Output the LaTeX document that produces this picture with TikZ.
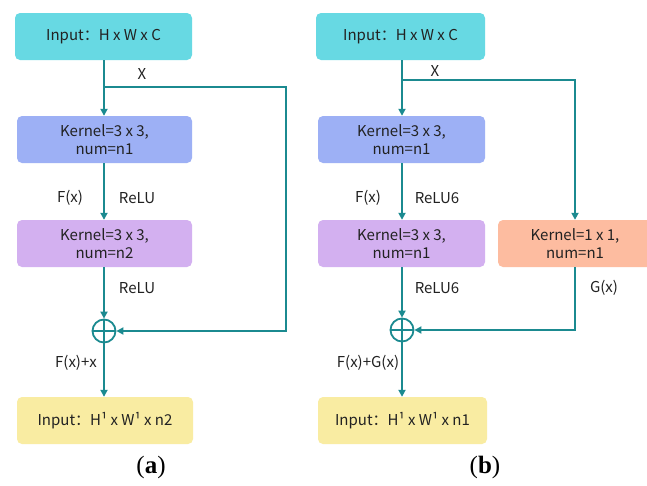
\documentclass[tikz,border=0pt]{standalone}
\usepackage{fontspec}
\setmainfont{Noto Sans CJK SC}
\newfontfamily\capfont{Liberation Serif}
\usetikzlibrary{arrows.meta}
\definecolor{tealline}{HTML}{1B8A90}
\definecolor{cyanbox}{HTML}{67D9E3}
\definecolor{bluebox}{HTML}{9DB0F5}
\definecolor{purplebox}{HTML}{D3B0F0}
\definecolor{orangebox}{HTML}{FDBCA0}
\definecolor{yellowbox}{HTML}{F9ECA2}
\definecolor{txt}{HTML}{222222}
\tikzset{
  blk/.style={rounded corners=5pt, inner sep=0pt, align=center, text=txt,
    font=\fontsize{15}{18}\selectfont, minimum height=47pt},
  lbl/.style={text=txt, font=\fontsize{15}{18}\selectfont, inner sep=0pt},
  conn/.style={draw=tealline, line width=1.8pt},
  arr/.style={conn, -{Triangle[width=7pt,length=7pt]}},
  sumnode/.style={circle, draw=tealline, line width=1.8pt, minimum size=23pt, inner sep=0pt},
  subcap/.style={text=black, font=\capfont\fontsize{25}{28}\selectfont, inner sep=0pt}
}
\begin{document}
\begin{tikzpicture}[x=1pt,y=-1pt]
\useasboundingbox (0,0) rectangle (647,485);
\fill[white] (0,0) rectangle (647,485);

% ---- (a) residual block ----
\node[blk, fill=cyanbox, minimum width=177pt] (inA) at (103.5,36.5) {Input：H x W x C};
\node[blk, fill=bluebox, minimum width=175pt] (k1A) at (104.5,139.5) {Kernel=3 x 3,\\num=n1};
\node[blk, fill=purplebox, minimum width=175pt] (k2A) at (104.5,243.5) {Kernel=3 x 3,\\num=n2};
\node[sumnode] (sumA) at (104,331) {};
\draw[conn] (sumA.north) -- (sumA.south) (sumA.west) -- (sumA.east);
\node[blk, fill=yellowbox, minimum width=176pt] (outA) at (105,420.5) {Input：H¹ x W¹ x n2};

\coordinate (brA) at (104,87);
\coordinate (rtA) at (286,87);
\coordinate (rbA) at (286,331);
\draw[arr] (inA.south -| sumA) -- (k1A.north -| sumA);
\draw[arr] (brA) -- (rtA) -- (rbA) -- (sumA.east);
\draw[arr] (k1A.south -| sumA) -- (k2A.north -| sumA);
\draw[arr] (k2A.south -| sumA) -- (sumA.north);
\draw[arr] (sumA.south) -- (outA.north -| sumA);

\node[lbl] (xA) at (142,74) {X};
\node[lbl] (fA) at (70,198) {F(x)};
\node[lbl] (r1A) at (137,198) {ReLU};
\node[lbl] (r2A) at (137,288) {ReLU};
\node[lbl] (sA) at (76,363) {F(x)+x};
\node[subcap] (capA) at (151,467) {(\textbf{a})};

% ---- (b) block with 1x1 shortcut ----
\node[blk, fill=cyanbox, minimum width=169pt] (inB) at (400.5,36.5) {Input：H x W x C};
\node[blk, fill=bluebox, minimum width=167pt] (k1B) at (401.5,139.5) {Kernel=3 x 3,\\num=n1};
\node[blk, fill=purplebox, minimum width=167pt] (k2B) at (401.5,243.5) {Kernel=3 x 3,\\num=n1};
\node[blk, fill=orangebox, minimum width=154pt] (k3B) at (575,243.5) {Kernel=1 x 1,\\num=n1};
\node[sumnode] (sumB) at (402,330) {};
\draw[conn] (sumB.north) -- (sumB.south) (sumB.west) -- (sumB.east);
\node[blk, fill=yellowbox, minimum width=169pt] (outB) at (402.5,420.5) {Input：H¹ x W¹ x n1};

\coordinate (brB) at (402,80);
\coordinate (rtB) at (575,80);
\coordinate (rbB) at (575,330);
\draw[arr] (inB.south -| sumB) -- (k1B.north -| sumB);
\draw[arr] (brB) -- (rtB) -- (k3B.north);
\draw[arr] (k3B.south) -- (rbB) -- (sumB.east);
\draw[arr] (k1B.south -| sumB) -- (k2B.north -| sumB);
\draw[arr] (k2B.south -| sumB) -- (sumB.north);
\draw[arr] (sumB.south) -- (outB.north -| sumB);

\node[lbl] (xB) at (435,71) {X};
\node[lbl] (fB) at (368,198) {F(x)};
\node[lbl] (r1B) at (437,198) {ReLU6};
\node[lbl] (r2B) at (437,288) {ReLU6};
\node[lbl] (gB) at (604,288) {G(x)};
\node[lbl] (sB) at (368,363) {F(x)+G(x)};
\node[subcap] (capB) at (485,467) {(\textbf{b})};
\end{tikzpicture}
\end{document}
